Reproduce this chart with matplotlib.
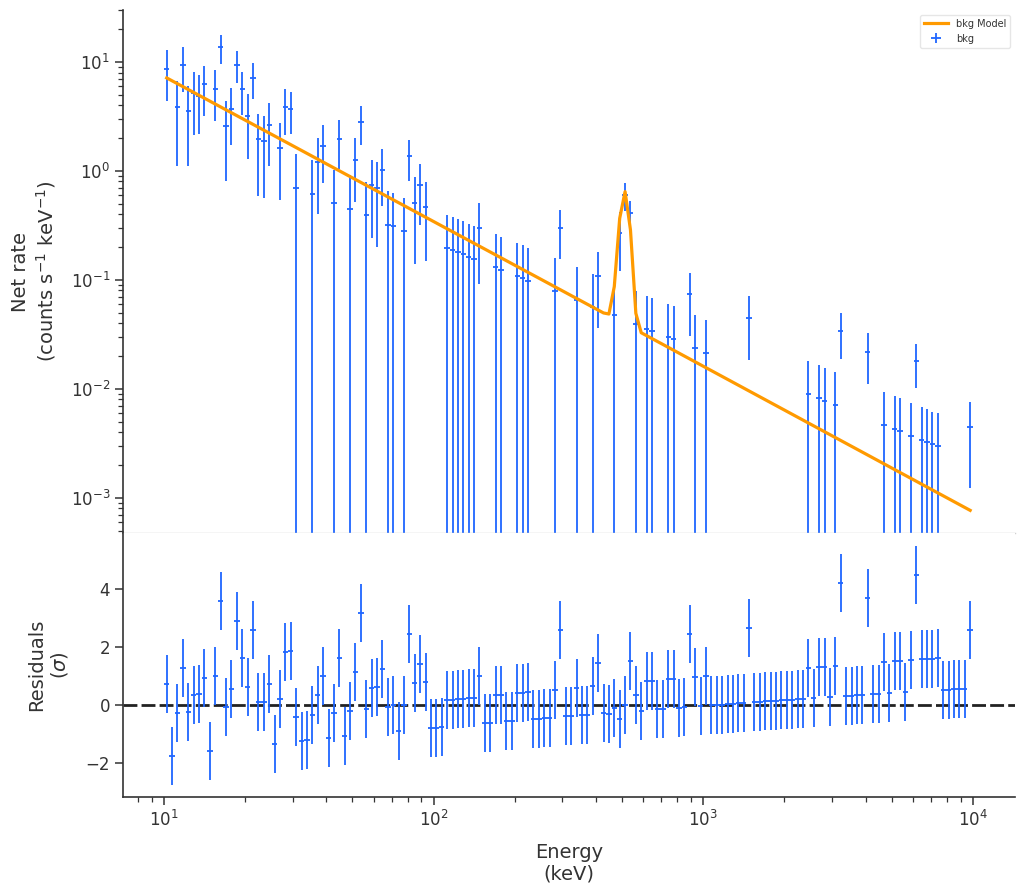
import numpy as np
import matplotlib
matplotlib.use("Agg")
import matplotlib.pyplot as plt
from matplotlib.ticker import MultipleLocator

# ---------------- data ----------------
# energy bin edges (keV), 150 logarithmic bins from 10 keV to 10 MeV
energy_edges = [
    10.00, 10.47, 10.96, 11.48, 12.02, 12.59, 13.18, 13.80, 14.45, 15.14,
    15.85, 16.60, 17.38, 18.20, 19.05, 19.95, 20.89, 21.88, 22.91, 23.99,
    25.12, 26.30, 27.54, 28.84, 30.20, 31.62, 33.11, 34.67, 36.31, 38.02,
    39.81, 41.69, 43.65, 45.71, 47.86, 50.12, 52.48, 54.95, 57.54, 60.26,
    63.10, 66.07, 69.18, 72.44, 75.86, 79.43, 83.18, 87.10, 91.20, 95.50,
    100.0, 104.7, 109.6, 114.8, 120.2, 125.9, 131.8, 138.0, 144.5, 151.4,
    158.5, 166.0, 173.8, 182.0, 190.5, 199.5, 208.9, 218.8, 229.1, 239.9,
    251.2, 263.0, 275.4, 288.4, 302.0, 316.2, 331.1, 346.7, 363.1, 380.2,
    398.1, 416.9, 436.5, 457.1, 478.6, 501.2, 524.8, 549.5, 575.4, 602.6,
    631.0, 660.7, 691.8, 724.4, 758.6, 794.3, 831.8, 871.0, 912.0, 955.0,
    1000.0, 1047.1, 1096.5, 1148.2, 1202.3, 1258.9, 1318.3, 1380.4, 1445.4, 1513.6,
    1584.9, 1659.6, 1737.8, 1819.7, 1905.5, 1995.3, 2089.3, 2187.8, 2290.9, 2398.8,
    2511.9, 2630.3, 2754.2, 2884.0, 3019.9, 3162.3, 3311.3, 3467.4, 3630.8, 3801.9,
    3981.1, 4168.7, 4365.2, 4570.9, 4786.3, 5011.9, 5248.1, 5495.4, 5754.4, 6025.6,
    6309.6, 6606.9, 6918.3, 7244.4, 7585.8, 7943.3, 8317.6, 8709.6, 9120.1, 9549.9,
    10000.0,
]

# net rate (counts s^-1 keV^-1) of the bins that have a positive rate: bin index, rate, error
rate_bin = [0, 2, 3, 4, 5, 6, 7, 9, 10, 11, 12, 13, 14, 15, 16, 17, 18, 19, 21, 22,
            23, 24, 27, 28, 29, 31, 32, 34, 35, 36, 37, 38, 39, 40, 41, 42, 44, 45, 46, 47,
            48, 52, 53, 54, 55, 56, 57, 58, 61, 62, 65, 66, 67, 72, 73, 76, 79, 80, 83, 84,
            85, 86, 87, 89, 90, 93, 94, 97, 98, 100, 108, 119, 121, 122, 124, 125, 130, 133, 135, 136,
            138, 139, 140, 141, 142, 143, 149]
rate_val = [8.69, 3.87, 9.48, 3.57, 5.15, 4.92, 6.22, 5.70, 13.6, 2.60, 3.73, 9.48, 5.70, 3.20, 7.19, 1.97, 1.87, 2.65, 1.64, 3.87,
            3.73, 0.70, 0.62, 1.20, 1.70, 0.51, 1.98, 0.45, 1.26, 2.83, 0.39, 0.75, 0.70, 1.03, 0.32, 0.31, 0.28, 1.36, 0.51, 0.74,
            0.47, 0.195, 0.188, 0.180, 0.173, 0.161, 0.156, 0.298, 0.131, 0.123, 0.109, 0.104, 0.098, 0.079, 0.298, 0.0654, 0.0564, 0.109, 0.0476, 0.271,
            0.602, 0.414, 0.0394, 0.0352, 0.0337, 0.0297, 0.0285, 0.0738, 0.0235, 0.0212, 0.0444, 0.0089, 0.00818, 0.00773, 0.00705, 0.0340, 0.0216, 0.00465, 0.00428, 0.00407,
            0.00366, 0.0179, 0.00337, 0.00323, 0.00309, 0.00296, 0.00443]
rate_err = [4.3, 2.77, 4.2, 2.45, 3.0, 2.75, 3.0, 2.8, 4.1, 1.8, 2.0, 3.1, 2.45, 1.9, 2.6, 1.38, 1.3, 1.55, 1.1, 1.74,
            1.57, 0.72, 0.63, 0.80, 0.93, 0.52, 0.94, 0.46, 0.74, 1.1, 0.40, 0.51, 0.50, 0.55, 0.33, 0.32, 0.29, 0.55, 0.37, 0.42,
            0.32, 0.197, 0.19, 0.182, 0.175, 0.163, 0.158, 0.207, 0.133, 0.125, 0.111, 0.106, 0.100, 0.080, 0.143, 0.066, 0.057, 0.073, 0.048, 0.15,
            0.17, 0.12, 0.040, 0.036, 0.034, 0.030, 0.029, 0.043, 0.0237, 0.0214, 0.026, 0.0090, 0.0083, 0.0078, 0.0071, 0.0153, 0.0106, 0.0047, 0.0043, 0.0041,
            0.0037, 0.0078, 0.0034, 0.0033, 0.0031, 0.0030, 0.0032]

# folded background model (vertices at bin centres; straight in log-log between them)
model_energy = [10.23, 426.6, 446.7, 467.7, 489.8, 512.9, 537.0, 562.3, 588.8, 9772.0]
model_rate = [7.14, 0.0497, 0.0486, 0.0867, 0.367, 0.646, 0.288, 0.0493, 0.0327, 7.66e-4]

# residuals (sigma) for all 150 bins
residual = [
    0.72, -1.75, -0.28, 1.28, -0.24, 0.34, 0.38, 0.93, -1.59, 1.00,
    3.59, -0.07, 0.55, 2.90, 1.62, 0.62, 2.59, 0.10, 0.10, 0.72,
    -1.34, 0.21, 1.83, 1.86, -0.41, -1.24, -1.21, -0.34, 0.34, 1.00,
    -1.14, -0.28, 1.62, -1.07, -0.21, 1.14, 3.17, -0.14, 0.59, 0.62,
    1.24, -0.07, 0.00, -0.90, 0.00, 2.45, 0.76, 1.41, 0.79, -0.79,
    -0.79, -0.76, 0.17, 0.17, 0.21, 0.21, 0.24, 0.24, 1.00, -0.62,
    -0.62, 0.34, 0.34, -0.55, -0.55, 0.41, 0.41, 0.45, -0.48, -0.48,
    -0.45, -0.45, 0.52, 2.59, -0.38, -0.38, 0.59, -0.34, -0.34, 0.66,
    1.45, -0.28, -0.31, -0.10, -0.48, 0.00, 1.52, 0.34, -0.21, 0.83,
    0.83, -0.14, -0.14, 0.90, 0.90, -0.10, -0.07, 2.45, 0.97, -0.03,
    1.00, 0.00, 0.00, 0.00, 0.03, 0.03, 0.07, 0.07, 2.66, 0.10,
    0.10, 0.14, 0.14, 0.14, 0.17, 0.17, 0.17, 0.21, 0.21, 1.28,
    0.24, 1.31, 1.31, 0.28, 1.34, 4.21, 0.31, 0.31, 0.34, 0.34,
    3.69, 0.38, 0.38, 1.48, 0.41, 1.52, 1.52, 0.45, 1.55, 4.48,
    1.59, 1.59, 1.59, 1.62, 0.52, 0.52, 0.55, 0.55, 0.55, 2.59,
]

# ---------------- derived ----------------
edges = np.array(energy_edges)
e_lo, e_hi = edges[:-1], edges[1:]
e_c = np.sqrt(e_lo * e_hi)
idx = np.array(rate_bin)
res = np.array(residual)

blue = "#1f66ff"
orange = "#ff9a00"
dark = "#333333"

plt.rcParams.update({
    "font.family": ["DejaVu Sans"],
    "axes.edgecolor": dark,
    "axes.labelcolor": dark,
    "xtick.color": dark,
    "ytick.color": dark,
    "text.color": dark,
})

fig = plt.figure(figsize=(10.24, 8.94), dpi=100)
ax1 = fig.add_axes([0.1204, 0.4035, 0.8708, 0.5853])
ax2 = fig.add_axes([0.1204, 0.1088, 0.8708, 0.2947], sharex=ax1)

# top panel
ax1.plot(model_energy, model_rate, color=orange, lw=2.3, label="bkg Model", zorder=3)
xc = e_c[idx]
ax1.errorbar(xc, rate_val,
             xerr=[xc - e_lo[idx], e_hi[idx] - xc],
             yerr=rate_err,
             fmt="none", ecolor=blue, elinewidth=1.3, capsize=0,
             label="bkg", zorder=2)
ax1.set_xscale("log")
ax1.set_yscale("log")
ax1.set_xlim(7.06, 14330)
ax1.set_ylim(4.72e-4, 30.0)
ax1.set_ylabel("Net rate\n(counts s$^{-1}$ keV$^{-1}$)", fontsize=14, labelpad=9)
ax1.tick_params(axis="x", which="both", bottom=False, labelbottom=False)
ax1.tick_params(axis="y", which="major", length=6, width=1.1, labelsize=12)
ax1.tick_params(axis="y", which="minor", length=3.5, width=0.9)
for s in ["top", "right"]:
    ax1.spines[s].set_visible(False)
ax1.spines["bottom"].set_color("#d0d0d0")
ax1.spines["bottom"].set_linewidth(1.0)
ax1.spines["left"].set_linewidth(1.2)
leg = ax1.legend(loc="upper right", fontsize=7, frameon=True, fancybox=True,
                 edgecolor="#e0e0e0", handlelength=2.5)

# residual panel
ax2.axhline(0, color="#222222", lw=2.0, ls="--", dashes=(5, 1.5), zorder=1)
ax2.errorbar(e_c, res, xerr=[e_c - e_lo, e_hi - e_c], yerr=1.0,
             fmt="none", ecolor=blue, elinewidth=1.3, capsize=0, zorder=2)
ax2.set_ylim(-3.17, 5.93)
ax2.yaxis.set_major_locator(MultipleLocator(2))
ax2.set_ylabel("Residuals\n($\\sigma$)", fontsize=14, labelpad=11)
ax2.set_xlabel("Energy\n(keV)", fontsize=14, labelpad=9)
ax2.tick_params(axis="both", which="major", length=6, width=1.1, labelsize=12)
ax2.tick_params(axis="x", which="minor", length=3.5, width=0.9)
for s in ["top", "right"]:
    ax2.spines[s].set_visible(False)
ax2.spines["left"].set_linewidth(1.2)
ax2.spines["bottom"].set_linewidth(1.2)

fig.savefig("out.png", dpi=100)
